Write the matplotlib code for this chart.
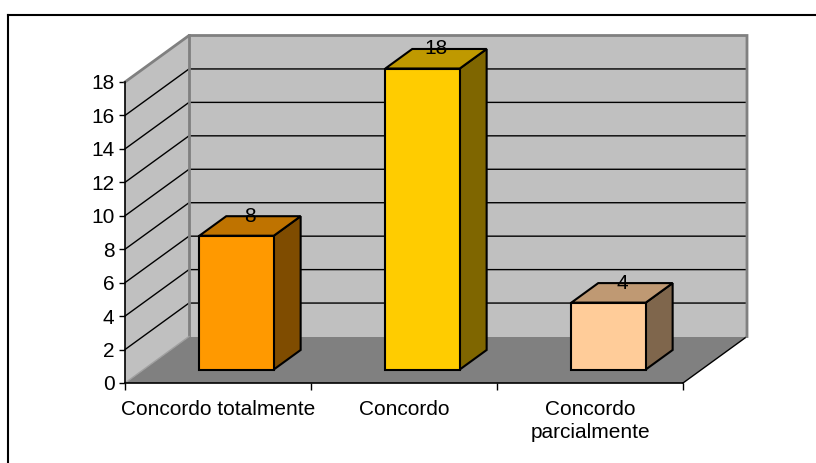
import matplotlib
matplotlib.use("Agg")
import matplotlib.pyplot as plt
from matplotlib.patches import Polygon
from matplotlib.lines import Line2D

plt.rcParams['font.family'] = ['Liberation Sans', 'DejaVu Sans']

categories = ["Concordo totalmente", "Concordo", "Concordo\nparcialmente"]
values = [8, 18, 4]
y_ticks = list(range(0, 20, 2))

front_colors = ["#FF9900", "#FFCC00", "#FFCC99"]
top_colors = ["#BF7300", "#BF9900", "#BF9973"]
side_colors = ["#7F4C00", "#7F6600", "#7F664C"]

W, H = 816, 463
fig = plt.figure(figsize=(W / 100, H / 100), dpi=100)

# Front plane of the 3D box: x 125..683 px, y 383..82 px (image coords)
x0, x1, ytop, ybot = 125, 683, 82, 383
ax = fig.add_axes([x0 / W, (H - ybot) / H, (x1 - x0) / W, (ybot - ytop) / H])
n = len(categories)
ymax = 18
ax.set_xlim(0, n)
ax.set_ylim(0, ymax)

# oblique depth offset in data units
px_per_x = (x1 - x0) / n
px_per_y = (ybot - ytop) / ymax
DX = 64 / px_per_x
DY = 46.5 / px_per_y

wall = "#C0C0C0"
edge = "#808080"
fs = 15

# floor
ax.add_patch(Polygon([(0, 0), (n, 0), (n + DX, DY), (DX, DY)], closed=True,
                     facecolor="#808080", edgecolor="none", clip_on=False, zorder=1))
ax.add_line(Line2D([n, n + DX], [0, DY], color="black", lw=1.0, clip_on=False, zorder=2))
# side wall
ax.add_patch(Polygon([(0, 0), (0, ymax), (DX, ymax + DY), (DX, DY)], closed=True,
                     facecolor=wall, edgecolor="none", clip_on=False, zorder=1))
# back wall
ax.add_patch(Polygon([(DX, DY), (DX, ymax + DY), (n + DX, ymax + DY), (n + DX, DY)],
                     closed=True, facecolor=wall, edgecolor="none", clip_on=False, zorder=1))

# gridlines on walls
for v in y_ticks[1:-1]:
    ax.add_line(Line2D([0, DX, n + DX], [v, v + DY, v + DY], color="black", lw=1.0,
                       clip_on=False, zorder=2))

# wall edges
ax.add_line(Line2D([0, DX, n + DX, n + DX], [ymax, ymax + DY, ymax + DY, DY],
                   color=edge, lw=2.0, clip_on=False, zorder=2, solid_joinstyle="miter"))
ax.add_line(Line2D([DX, DX], [DY, ymax + DY], color=edge, lw=2.0, clip_on=False, zorder=2))
ax.add_line(Line2D([0, DX], [0, DY], color="#A0A0A0", lw=1.0, clip_on=False, zorder=2))

# bars
hw = 0.2
f0, f1 = 0.29, 0.71
for i, v in enumerate(values):
    c = i + 0.5
    xl = c - hw + f0 * DX
    xr = c + hw + f0 * DX
    yb = f0 * DY
    ddx = (f1 - f0) * DX
    ddy = (f1 - f0) * DY
    kw = dict(closed=True, edgecolor="black", lw=1.5, clip_on=False, zorder=5,
              joinstyle="miter")
    ax.add_patch(Polygon([(xr, yb), (xr + ddx, yb + ddy), (xr + ddx, yb + ddy + v), (xr, yb + v)],
                         facecolor=side_colors[i], **kw))
    ax.add_patch(Polygon([(xl, yb + v), (xr, yb + v), (xr + ddx, yb + v + ddy), (xl + ddx, yb + v + ddy)],
                         facecolor=top_colors[i], **kw))
    ax.add_patch(Polygon([(xl, yb), (xr, yb), (xr, yb + v), (xl, yb + v)],
                         facecolor=front_colors[i], **kw))
    ax.text(c + 0.5 * (f0 + f1) * DX, v + f1 * DY, str(v), ha="center", va="center",
            fontsize=fs, color="black", zorder=6)

# axes styling
for s in ["top", "right"]:
    ax.spines[s].set_visible(False)
for s in ["left", "bottom"]:
    ax.spines[s].set_color("black")
    ax.spines[s].set_linewidth(1.2)
    ax.spines[s].set_zorder(4)
ax.patch.set_visible(False)

ax.set_yticks(y_ticks)
ax.set_yticklabels([str(t) for t in y_ticks])
ax.tick_params(axis="y", direction="out", length=4, width=1, pad=3.5, labelsize=fs)
ax.set_xticks(range(n + 1))
ax.set_xticklabels([""] * (n + 1))
ax.tick_params(axis="x", which="major", direction="out", length=5, width=1)
ax.set_xticks([i + 0.5 for i in range(n)], minor=True)
ax.set_xticklabels(categories, minor=True)
ax.tick_params(axis="x", which="minor", length=0, pad=12, labelsize=fs)
for lbl in ax.get_xticklabels(minor=True):
    lbl.set_linespacing(1.3)

# chart-area border (top and left edges)
fig.add_artist(Line2D([8 / W, 8 / W], [0, 1 - 15 / H], transform=fig.transFigure,
                      color="black", lw=1.5))
fig.add_artist(Line2D([8 / W, 1], [1 - 15 / H, 1 - 15 / H], transform=fig.transFigure,
                      color="black", lw=1.5))

fig.savefig("out.png", dpi=100, facecolor="white")
